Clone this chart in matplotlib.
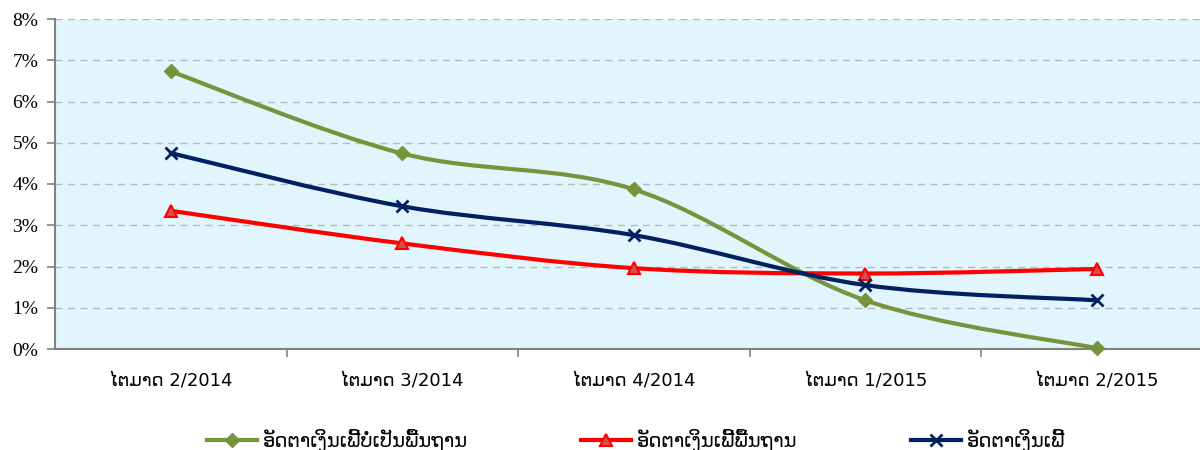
import matplotlib
matplotlib.use("Agg")
import matplotlib.pyplot as plt
from matplotlib.path import Path
from matplotlib.patches import PathPatch
from matplotlib.lines import Line2D
import numpy as np

categories = ["ໄຕມາດ 2/2014", "ໄຕມາດ 3/2014", "ໄຕມາດ 4/2014", "ໄຕມາດ 1/2015", "ໄຕມາດ 2/2015"]
core_infl = [6.73, 4.74, 3.87, 1.18, 0.02]
headline_base = [3.35, 2.56, 1.96, 1.83, 1.94]
headline = [4.75, 3.46, 2.76, 1.55, 1.18]
series_names = ["ອັດຕາເງິນເຟີ້ບໍ່ເປັນພື້ນຖານ", "ອັດຕາເງິນເຟີ້ພື້ນຖານ", "ອັດຕາເງິນເຟີ້"]
yticks = list(range(0, 9))

fig = plt.figure(figsize=(12, 4.5), dpi=100)
ax = fig.add_axes([55/1200, 101/450, 1 - 55/1200, 330/450])
ax.set_facecolor("#E1F5FC")

def smooth_path(x, y):
    pts = np.column_stack([x, y]).astype(float)
    n = len(pts)
    verts = [pts[0]]
    codes = [Path.MOVETO]
    for i in range(n - 1):
        p0 = pts[i - 1] if i > 0 else pts[i]
        p1 = pts[i]
        p2 = pts[i + 1]
        p3 = pts[i + 2] if i + 2 < n else pts[i + 1]
        c1 = p1 + (p2 - p0) / 6.0
        c2 = p2 - (p3 - p1) / 6.0
        verts += [c1, c2, p2]
        codes += [Path.CURVE4] * 3
    return Path(verts, codes)

xs = np.arange(len(categories))
styles = [
    (core_infl, "#77933C", dict(marker="D", markersize=7, markerfacecolor="#77933C", markeredgecolor="#77933C")),
    (headline_base, "#FF0000", dict(marker="^", markersize=9, markerfacecolor="#D05050", markeredgecolor="#FF0000", markeredgewidth=1.5)),
    (headline, "#002060", dict(marker="x", markersize=8, markeredgecolor="#002060", markeredgewidth=2)),
]
handles = []
for (vals, col, mk), name in zip(styles, series_names):
    patch = PathPatch(smooth_path(xs, vals), facecolor="none", edgecolor=col, lw=3.0, zorder=3, capstyle="round")
    ax.add_patch(patch)
    ax.plot(xs, vals, linestyle="none", zorder=4, clip_on=False, **mk)
    handles.append(Line2D([0], [0], color=col, lw=3.0, **mk))

ax.set_xlim(-0.5, -0.5 + 1145 / 231.5)
ax.set_ylim(0, 8)
ax.set_yticks(yticks)
ax.set_yticklabels([f"{v}%" for v in yticks], fontfamily="Liberation Serif", fontsize=14)
ax.yaxis.grid(True, linestyle=(0, (5, 4)), color="#B8B8B8", lw=1)
ax.set_axisbelow(True)
ax.set_xticks(xs)
ax.set_xticklabels(categories, fontfamily="DejaVu Sans", fontsize=13)
ax.tick_params(axis="x", length=0, pad=17)
ax.set_xticks(np.arange(len(categories) - 1) + 0.5, minor=True)
ax.tick_params(axis="x", which="minor", length=6, color="#808080", width=1.2)
ax.tick_params(axis="y", length=6, color="#808080", width=1.2, pad=6)
for s in ["top", "right"]:
    ax.spines[s].set_visible(False)
for s in ["left", "bottom"]:
    ax.spines[s].set_color("#808080")
    ax.spines[s].set_linewidth(1.5)

leg = fig.legend(handles, series_names, loc="center", bbox_to_anchor=(0.53, 0.022),
                 ncol=3, frameon=False, handlelength=2.6, columnspacing=5.8,
                 prop={"family": "DejaVu Sans", "size": 14}, handletextpad=0.3)

fig.savefig("out.png", dpi=100)
